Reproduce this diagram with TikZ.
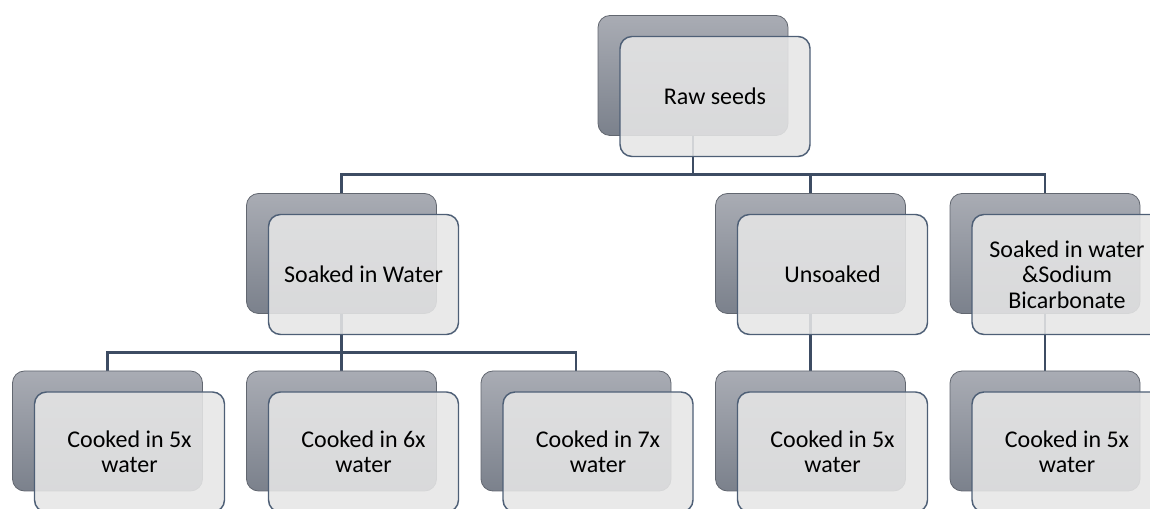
\documentclass[tikz,border=0pt]{standalone}
\usepackage{fontspec}
\setmainfont{Carlito}
\usepackage{xcolor}
\usepackage{tikz}
\usetikzlibrary{calc, backgrounds, positioning}

\definecolor{boxtop}{HTML}{A9ACB4}
\definecolor{boxbot}{HTML}{7B818C}
\definecolor{boxline}{HTML}{4E5F76}
\definecolor{linkcol}{HTML}{3D4C63}
\definecolor{facefill}{HTML}{E6E6E6}

\begin{document}
\begin{tikzpicture}[x=0.75pt, y=-0.75pt,
    backbox/.style={rectangle, rounded corners=9pt, minimum width=142.5pt,
        minimum height=90pt, inner sep=0pt, outer sep=0pt,
        top color=boxtop, bottom color=boxbot, draw=boxbot!80!black, line width=0.6pt},
    frontbox/.style={rectangle, rounded corners=9pt, minimum width=142.5pt,
        minimum height=90pt, inner sep=0pt, outer sep=0pt, align=center,
        fill=facefill, fill opacity=0.88, text opacity=1, draw=boxline,
        line width=1.1pt, font=\fontsize{18}{19}\selectfont},
    link/.style={draw=linkcol, line width=1.9pt}]
    \clip (0,0) rectangle (1150,509);
    \useasboundingbox (0,0) rectangle (1150,509);

    % 1. Top box
    \node[backbox] (rawb) at (693,75.5) {};
    \node[frontbox] (raw) at ([shift={(22,21)}]rawb.center) {Raw seeds};

    % 2. Second row
    \node[backbox] (soakb) at (341.5,253.5) {};
    \node[frontbox] (soak) at ([shift={(22,21)}]soakb.center) {Soaked in Water};
    \node[backbox] (unsoakb) at (810.5,253.5) {};
    \node[frontbox] (unsoak) at ([shift={(22,21)}]unsoakb.center) {Unsoaked};
    \node[backbox] (bicarbb) at (1045,253.5) {};
    \node[frontbox] (bicarb) at ([shift={(22,21)}]bicarbb.center) {Soaked in water\\ \&Sodium\\ Bicarbonate};

    % 3. Bottom row
    \node[backbox] (cookab) at (107.5,431) {};
    \node[frontbox] (cooka) at ([shift={(22,21)}]cookab.center) {Cooked in 5x\\ water};
    \node[backbox] (cookbb) at (341.5,431) {};
    \node[frontbox] (cookb) at ([shift={(22,21)}]cookbb.center) {Cooked in 6x\\ water};
    \node[backbox] (cookcb) at (576,431) {};
    \node[frontbox] (cookc) at ([shift={(22,21)}]cookcb.center) {Cooked in 7x\\ water};
    \node[backbox] (cookdb) at (810.5,431) {};
    \node[frontbox] (cookd) at ([shift={(22,21)}]cookdb.center) {Cooked in 5x\\ water};
    \node[backbox] (cookeb) at (1045,431) {};
    \node[frontbox] (cooke) at ([shift={(22,21)}]cookeb.center) {Cooked in 5x\\ water};

    % 4. Connectors behind the boxes
    \begin{scope}[on background layer]
        \coordinate (split) at ($(rawb.south)+(0,39)$);
        \draw[link] (rawb.south) -- (split);
        \draw[link] (split) -| (soakb.north);
        \draw[link] (split) -| (unsoakb.north);
        \draw[link] (split) -| (bicarbb.north);
        \coordinate (split2) at ($(soakb.south)+(0,39)$);
        \draw[link] (soakb.south) -- (split2);
        \draw[link] (split2) -| (cookab.north);
        \draw[link] (split2) -| (cookbb.north);
        \draw[link] (split2) -| (cookcb.north);
        \draw[link] (unsoakb.south) -- (cookdb.north);
        \draw[link] (bicarbb.south) -- (cookeb.north);
    \end{scope}
\end{tikzpicture}
\end{document}
